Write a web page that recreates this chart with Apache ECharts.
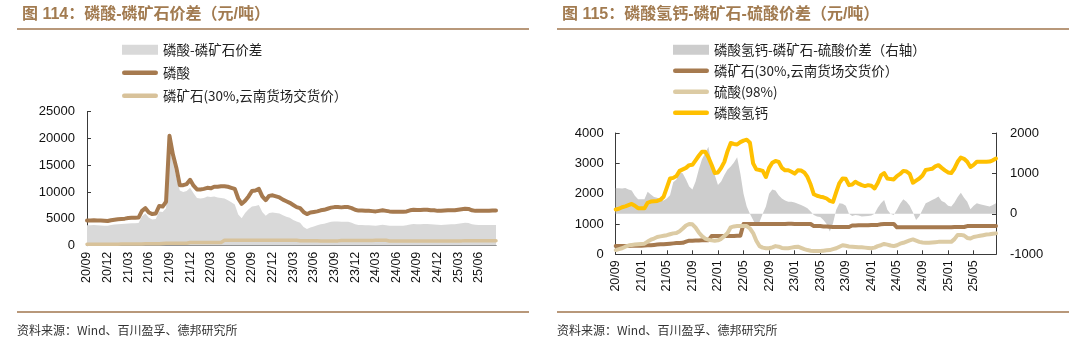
<!DOCTYPE html>
<html>
<head>
<meta charset="utf-8">
<script src="https://cdn.jsdelivr.net/npm/echarts@6/dist/echarts.min.js"></script>
<style>
html,body{margin:0;padding:0;background:#fff;width:1080px;height:344px;overflow:hidden}
#left,#right{position:absolute;top:0;width:540px;height:344px}
#left{left:0}#right{left:540px}
</style>
</head>
<body>
<div id="left"></div>
<div id="right"></div>
<script>
// Half-month periods, 2020/09 – 2025/08 (first and second half of each month)
const periods = [];
for (let y = 2020, m = 9; y < 2025 || (y === 2025 && m <= 8); m === 12 ? (y++, m = 1) : m++) {
  const tag = String(y).slice(2) + '/' + String(m).padStart(2, '0');
  periods.push(tag + '/01', tag + '/16');
}

// 磷酸 (元/吨)
const acidPrice = [
  4700,4700,4750,4700,4700,4650,4600,4750,4850,4950,5000,5050,
  5150,5200,5200,5250,6500,7000,6200,5900,6000,7400,7300,8200,
  20500,17000,14500,11300,11300,11500,12300,11200,10500,10500,10600,10800,
  10700,11000,11000,11100,11100,11000,10800,10600,8800,7800,8400,9200,
  10200,10300,10600,9200,8500,9300,9400,9200,9000,8600,8300,8000,
  7600,7200,7000,6300,5900,6200,6300,6400,6600,6700,6900,7100,
  7200,7200,7150,7200,7200,7000,6700,6550,6550,6500,6500,6450,
  6400,6500,6600,6500,6400,6350,6350,6350,6350,6400,6600,6700,
  6650,6650,6700,6700,6600,6600,6500,6500,6550,6600,6600,6600,
  6700,6800,6900,6850,6600,6500,6500,6500,6500,6500,6550,6550
];

// 磷酸-磷矿石价差 (元/吨)
const acidSpread = [
  3800,3800,3850,3800,3750,3700,3700,3850,3950,4000,4050,4100,
  4150,4200,4200,4250,5500,6000,5200,4900,5000,6400,6300,7000,
  18300,15500,12800,10300,10000,10200,10800,9800,8900,8800,8900,9200,
  9100,9200,9000,8900,8800,8500,8100,7700,5800,5100,6100,6800,
  7300,7400,7600,6300,5600,6100,6200,6100,6000,5700,5400,5200,
  4800,4500,4300,3500,3100,3400,3600,3800,4000,4100,4300,4450,
  4500,4500,4450,4480,4450,4300,4000,3850,3850,3800,3800,3750,
  3700,3800,3900,3800,3700,3700,3700,3700,3700,3800,3950,4050,
  4000,4000,4050,4050,4000,3950,3900,3850,3900,3950,4000,4000,
  4100,4200,4300,4250,4000,3900,3850,3850,3850,3850,3850,3850
];

// 磷矿石(30%,云南货场交货价) (元/吨)
const rockPrice = [
  270,270,270,270,275,280,280,280,285,290,295,300,
  310,320,330,330,340,350,360,370,375,380,420,450,
  450,455,455,460,460,460,600,600,600,600,600,600,
  600,600,610,610,1000,1000,1000,1000,1000,1000,1000,1000,
  1000,1000,1000,1000,1000,1000,1010,1010,1000,1000,1000,1000,
  1000,1000,930,930,930,920,920,910,900,900,900,900,
  900,900,950,950,960,960,960,960,970,970,970,990,
  1000,1000,1000,1000,890,890,890,890,890,890,890,890,
  890,890,890,890,890,890,890,890,890,890,900,900,
  900,900,930,930,930,930,930,930,930,930,930,930
];

// 磷酸氢钙 (元/吨)
const dcpPrice = [
  1480,1500,1550,1580,1620,1660,1600,1520,1520,1520,1700,1740,
  1750,1760,1800,1900,2200,2500,2520,2580,2750,2800,2850,2940,
  2950,3100,3250,3380,3380,3200,2950,2680,2700,2850,3050,3400,
  3670,3640,3620,3700,3750,3780,3680,3000,2800,2780,2750,2550,
  2850,3020,3080,3050,2850,2770,2770,2720,2660,2770,2760,2700,
  2550,2300,1980,1930,1900,1880,1840,1760,1730,2050,2350,2500,
  2490,2280,2300,2390,2330,2280,2250,2280,2260,2170,2350,2600,
  2680,2500,2480,2470,2580,2650,2750,2730,2650,2360,2430,2500,
  2600,2780,2800,2820,2900,2940,2850,2770,2700,2680,2830,3050,
  3190,3150,3050,2880,2950,3050,3050,3050,3050,3060,3100,3160
];

// 磷酸氢钙-磷矿石-硫酸价差 (右轴, 元/吨)
const dcpSpread = [
  635,635,630,640,600,580,450,360,360,360,550,480,
  420,400,350,330,380,460,780,850,1050,1000,850,675,
  600,800,1100,1350,1500,1660,1250,960,715,800,960,1100,
  1170,1270,1400,1000,500,180,0,-150,-300,-200,0,180,
  500,600,580,460,380,330,300,300,280,250,220,180,
  140,60,-25,-65,-80,-150,-250,-435,-230,100,265,250,
  200,0,-50,-30,-40,-65,-60,-50,-40,0,150,265,
  345,100,0,-25,100,250,360,300,200,40,-150,-60,
  100,265,300,345,380,430,320,280,200,180,280,420,
  525,400,300,115,200,265,240,220,200,180,220,265
];

// 硫酸(98%) (元/吨)
const sulfuricPrice = [
  140,170,200,250,290,310,320,330,340,350,420,480,
  520,570,590,610,630,660,690,700,760,850,950,1000,
  990,880,720,600,520,480,460,450,460,510,600,700,
  890,920,930,930,930,930,850,700,450,270,220,200,
  200,230,270,250,210,200,200,220,240,250,210,170,
  140,120,110,110,110,120,130,140,170,200,250,300,
  280,260,250,240,230,230,220,210,200,220,270,300,
  340,320,290,270,300,350,380,420,460,490,450,410,
  390,380,380,390,400,410,410,410,410,410,500,640,
  640,620,540,520,570,590,610,630,650,660,680,690
];

const titles = ['图 114：磷酸-磷矿石价差（元/吨）', '图 115：磷酸氢钙-磷矿石-硫酸价差（元/吨）'];
const sourceNote = '资料来源：Wind、百川盈孚、德邦研究所';
const leftNames = ['磷酸-磷矿石价差', '磷酸', '磷矿石(30%,云南货场交货价）'];
const rightNames = ['磷酸氢钙-磷矿石-硫酸价差（右轴）', '磷矿石(30%,云南货场交货价）', '硫酸(98%)', '磷酸氢钙'];

const CJK = '"Noto Sans CJK SC"';
const NUM = '"Liberation Sans", "Noto Sans CJK SC"';
const AXIS = '#3a3a3a';
const RULE = '#B8987A';
// Legend swatch for line series: a thick bar with rounded ends
const LINE_ICON = 'path://M2,0H34A2,2 0 0 1 34,4.4H2A2,2 0 0 1 2,0Z';

function frame(title) {
  return {
    title: {
      text: title, left: 17, top: 2,
      textStyle: { fontSize: 16, fontWeight: 'bold', color: '#A27B50', fontFamily: NUM }
    },
    graphic: [
      { type: 'line', shape: { x1: 17, y1: 29, x2: 529, y2: 29 }, style: { stroke: RULE, lineWidth: 2 } },
      { type: 'line', shape: { x1: 17, y1: 312, x2: 529, y2: 312 }, style: { stroke: RULE, lineWidth: 2 } },
      { type: 'text', x: 17, y: 330, style: { text: sourceNote, fontSize: 12, fill: '#333', fontFamily: CJK, verticalAlign: 'middle' } }
    ]
  };
}

function catAxis(step) {
  return {
    type: 'category', data: periods, boundaryGap: false,
    axisLine: { lineStyle: { color: AXIS, width: 1 } },
    axisTick: { inside: true, length: 4, interval: step - 1, lineStyle: { color: AXIS } },
    axisLabel: {
      interval: step - 1, rotate: 90, margin: 6, fontSize: 12.5, color: '#111', fontFamily: NUM,
      formatter: v => v.slice(0, 5)
    },
    splitLine: { show: false }
  };
}

function valAxis(min, max, step, pos) {
  return {
    type: 'value', min, max, interval: step, position: pos,
    axisLine: { show: true, lineStyle: { color: AXIS, width: 1 } },
    axisTick: { show: true, inside: true, length: 4, lineStyle: { color: AXIS } },
    axisLabel: {
      fontSize: 13, color: '#111', margin: pos === 'right' ? 14 : 12, fontFamily: NUM,
      formatter: v => String(v)
    },
    splitLine: { show: false }
  };
}

function lineSeries(name, data, color, width, yIndex) {
  return {
    type: 'line', name, data, yAxisIndex: yIndex || 0,
    symbol: 'none', showSymbol: false,
    lineStyle: { color, width, cap: 'round', join: 'round' },
    itemStyle: { color }
  };
}

function areaSeries(name, data, color, yIndex) {
  return {
    type: 'line', name, data, yAxisIndex: yIndex || 0,
    symbol: 'none', showSymbol: false,
    lineStyle: { width: 0, color },
    itemStyle: { color },
    areaStyle: { color, opacity: 1 }
  };
}

function legendItems(names) {
  return names.map((n, i) => ({ name: n, icon: i === 0 ? 'rect' : LINE_ICON }));
}

const legendText = { fontSize: 13.5, color: '#222', fontFamily: CJK };

// Left panel: 磷酸 vs 磷矿石
const leftChart = echarts.init(document.getElementById('left'), null, { renderer: 'canvas' });
leftChart.setOption(Object.assign(frame(titles[0]), {
  animation: false,
  grid: { left: 87, right: 44, top: 111.7, bottom: 98.3, containLabel: false },
  legend: {
    orient: 'vertical', left: 122, top: 43, padding: 0, itemWidth: 36, itemHeight: 10, itemGap: 9.5,
    symbolKeepAspect: true, textStyle: legendText,
    data: legendItems(leftNames)
  },
  xAxis: catAxis(6),
  yAxis: valAxis(0, 25000, 5000, 'left'),
  series: [
    areaSeries(leftNames[0], acidSpread, '#D9D9D9'),
    lineSeries(leftNames[1], acidPrice, '#A67A4F', 4),
    lineSeries(leftNames[2], rockPrice, '#D8C29A', 3.5)
  ]
}));

// Right panel: 磷酸氢钙, 磷矿石, 硫酸 and spread on the right axis
const rightChart = echarts.init(document.getElementById('right'), null, { renderer: 'canvas' });
rightChart.setOption(Object.assign(frame(titles[1]), {
  animation: false,
  grid: { left: 75.7, right: 84, top: 133, bottom: 89.7, containLabel: false },
  legend: {
    orient: 'vertical', left: 133, top: 43, padding: 0, itemWidth: 36, itemHeight: 10, itemGap: 7.5,
    symbolKeepAspect: true, textStyle: legendText,
    data: legendItems(rightNames)
  },
  xAxis: catAxis(8),
  yAxis: [valAxis(0, 4000, 1000, 'left'), valAxis(-1000, 2000, 1000, 'right')],
  series: [
    areaSeries(rightNames[0], dcpSpread, '#CDCDCD', 1),
    lineSeries(rightNames[1], rockPrice, '#A67A4F', 4),
    lineSeries(rightNames[2], sulfuricPrice, '#DCCBA4', 4),
    lineSeries(rightNames[3], dcpPrice, '#FFC000', 4)
  ]
}));
</script>
</body>
</html>
